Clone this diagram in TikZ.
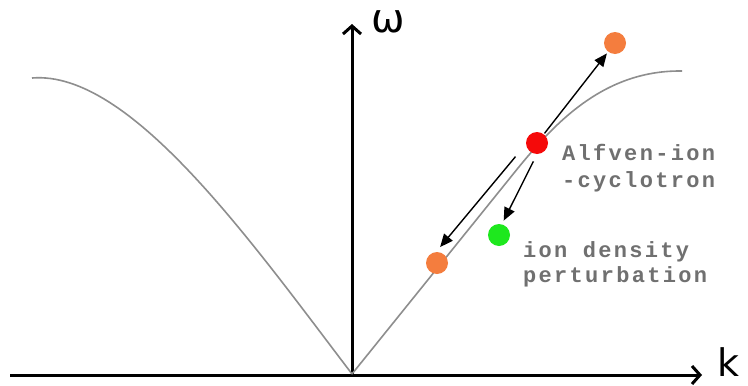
\documentclass[tikz,border=0pt]{standalone}
\usepackage{fontspec}
\setmainfont{DejaVu Sans}
\newfontfamily\labelfont[LetterSpace=10.5]{Liberation Mono}
\usetikzlibrary{arrows.meta,calc}
\definecolor{curvegray}{HTML}{8E8E8E}
\definecolor{labelgray}{HTML}{707070}
\definecolor{dotred}{HTML}{F50A0A}
\definecolor{dotorange}{HTML}{F47D3E}
\definecolor{dotgreen}{HTML}{1EE81E}
\begin{document}
\begin{tikzpicture}[x=1pt,y=-1pt,
  axis/.style={line width=3pt,-{Straight Barb[length=8pt,width=18pt,line width=3pt]}},
  curve/.style={draw=curvegray,line width=1.6pt},
  ptr/.style={line width=1.4pt,-{Triangle[length=13pt,width=11pt]}},
  dot/.style={circle,inner sep=0pt,minimum size=22pt},
  lbl/.style={font=\labelfont\bfseries\fontsize{22}{22}\selectfont,text=labelgray,anchor=base west,inner sep=0pt},
  axlbl/.style={inner sep=0pt}
]
\useasboundingbox (0,0) rectangle (748,386);
\fill[white] (0,0) rectangle (748,386);
% axes
\coordinate (O) at (352,375);
\coordinate (xstart) at (10,375);
\coordinate (xend) at (702,375);
\coordinate (ytop) at (352,24);
\draw[axis] (xstart) -- (xend);
\draw[axis] (O) -- (ytop);
\node[axlbl,font=\fontsize{40}{40}\selectfont] (omega) at (388,22) {ω};
\node[axlbl,anchor=base west,font=\fontsize{38}{38}\selectfont] (klab) at (717,376) {k};
% dispersion curves
\coordinate (C0) at (352,374);
\draw[curve] (C0) .. controls (250,240) and (130,70) .. (32,78);
\draw[curve] (C0) -- (510,178) .. controls (550,128) and (600,70) .. (682,71);
% dots
\node[dot,fill=dotred] (red) at (537,143) {};
\node[dot,fill=dotorange] (orU) at (615,43) {};
\node[dot,fill=dotorange] (orL) at (437,263) {};
\node[dot,fill=dotgreen] (grn) at (499,235) {};
% arrows
\draw[ptr,shorten <=1pt,shorten >=2pt] (red) -- (orU);
\draw[ptr,shorten <=13pt,shorten >=3pt,transform canvas={shift={(-6pt,5pt)}}] (red) -- (orL);
\draw[ptr,shorten <=8pt,shorten >=4pt] (red.-90) -- (grn.75);
% labels
\node[lbl] (l1) at (562,160) {Alfven-ion};
\node[lbl] (l2) at (562,187) {-cyclotron};
\node[lbl] (l3) at (523,257) {ion density};
\node[lbl] (l4) at (523,282) {perturbation};
\end{tikzpicture}
\end{document}
